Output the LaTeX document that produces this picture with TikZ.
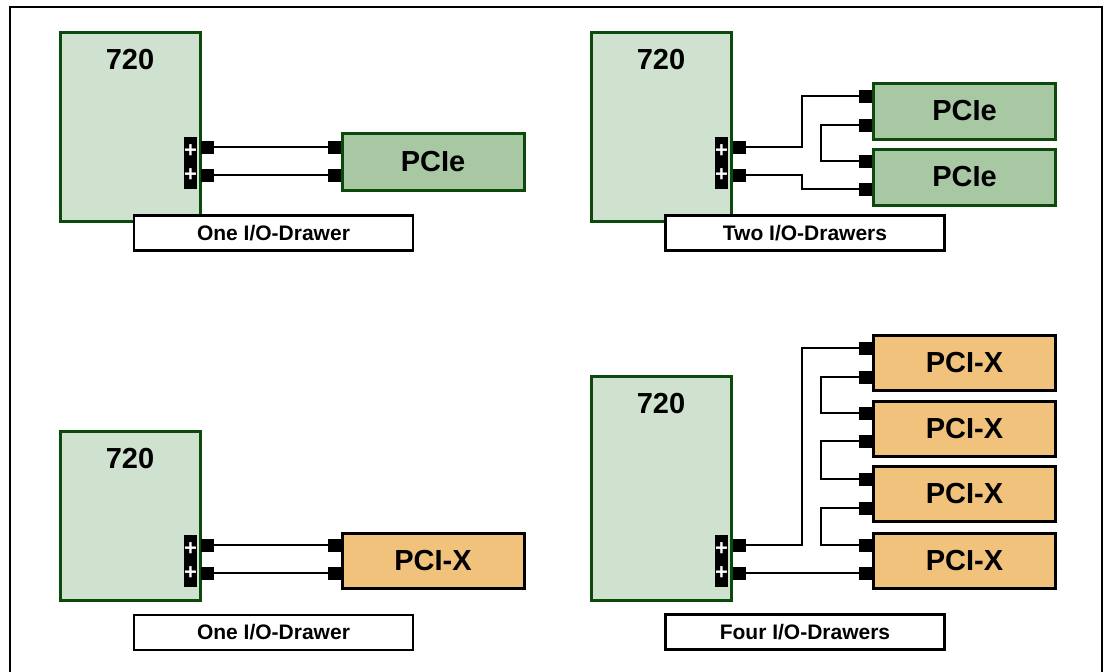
\documentclass[tikz,border=0pt]{standalone}
\usepackage{fontspec}
\setmainfont{Liberation Sans}
\usetikzlibrary{calc}
\definecolor{unitfill}{HTML}{CFE2CF}
\definecolor{unitline}{HTML}{0C4A0C}
\definecolor{pciefill}{HTML}{A8C8A4}
\definecolor{pcixfill}{HTML}{F1C27C}
\tikzset{
  unit/.style={draw=unitline, line width=3pt, fill=unitfill, inner sep=0pt, minimum width=140pt},
  bigtxt/.style={font=\fontsize{29}{34}\selectfont\bfseries, inner sep=0pt},
  strip/.style={fill=black, inner sep=0pt, minimum width=13pt, minimum height=52pt},
  plus/.style={text=white, font=\fontsize{22}{22}\selectfont\bfseries, inner sep=0pt},
  port/.style={fill=black, inner sep=0pt, minimum width=13pt, minimum height=13pt},
  drawerbox/.style={draw=black, line width=3pt, inner sep=0pt, minimum width=182pt, font=\fontsize{29}{34}\selectfont\bfseries},
  pcie/.style={drawerbox, draw=unitline, fill=pciefill, minimum height=56pt},
  pcix/.style={drawerbox, fill=pcixfill, minimum height=55pt},
  lbl/.style={draw=black, line width=2.2pt, fill=white, inner sep=0pt, minimum width=279pt, minimum height=35pt, font=\fontsize{21}{24}\selectfont\bfseries},
  cable/.style={line width=2pt, black},
}
\begin{document}
\begin{tikzpicture}[x=1pt,y=-1pt]
\useasboundingbox (0,0) rectangle (1106,672);
\draw[line width=1.3pt] (10,672) -- (10,7) -- (1102,7) -- (1102,672);

% ---------- top-left ----------
\node[unit, minimum height=189pt] (a-u) at (130,126.5) {};
\node[bigtxt] (a-t) at ($(a-u.north)+(0,29)$) {720};
\node[strip] (a-s) at (190.5,163) {};
\node[plus] (a-s1) at (190.5,151) {+};
\node[plus] (a-s2) at (190.5,175) {+};
\node[port] (a-p1) at (207,147) {};
\node[port] (a-p2) at (207,175) {};
\node[pcie, minimum height=57pt] (a-d) at (433,162) {PCIe};
\node[port] (a-q1) at (334.5,147) {};
\node[port] (a-q2) at (334.5,175) {};
\node[lbl] (a-l) at (273.5,233) {One I/O-Drawer};
\draw[cable] (a-p1.east) -- (a-q1.west);
\draw[cable] (a-p2.east) -- (a-q2.west);

% ---------- top-right ----------
\node[unit, minimum height=189pt] (b-u) at (661,126.5) {};
\node[bigtxt] (b-t) at ($(b-u.north)+(0,29)$) {720};
\node[strip] (b-s) at (721.5,163) {};
\node[plus] (b-s1) at (721.5,151) {+};
\node[plus] (b-s2) at (721.5,175) {+};
\node[port] (b-p1) at (739,147) {};
\node[port] (b-p2) at (739,175) {};
\node[pcie] (b-d1) at (964.5,111) {PCIe};
\node[pcie] (b-d2) at (964.5,177) {PCIe};
\node[port] (b-q1) at (865.5,96) {};
\node[port] (b-q2) at (865.5,125) {};
\node[port] (b-q3) at (865.5,161) {};
\node[port] (b-q4) at (865.5,189) {};
\node[lbl] (b-l) at (805,233) {Two I/O-Drawers};
\coordinate (b-x) at (802,0);
\coordinate (b-y) at (821,0);
\draw[cable] (b-p1.east) -- (b-p1.east -| b-x) |- (b-q1.west);
\draw[cable] (b-q2.west) -- (b-q2.west -| b-y) |- (b-q3.west);
\draw[cable] (b-p2.east) -- (b-p2.east -| b-x) |- (b-q4.west);

% ---------- bottom-left ----------
\node[unit, minimum height=169pt] (c-u) at (130,515.5) {};
\node[bigtxt] (c-t) at ($(c-u.north)+(0,29)$) {720};
\node[strip] (c-s) at (190.5,561) {};
\node[plus] (c-s1) at (190.5,549) {+};
\node[plus] (c-s2) at (190.5,573) {+};
\node[port] (c-p1) at (207,545) {};
\node[port] (c-p2) at (207,573) {};
\node[pcix] (c-d) at (433,560.5) {PCI-X};
\node[port] (c-q1) at (334.5,545) {};
\node[port] (c-q2) at (334.5,573) {};
\node[lbl] (c-l) at (273.5,632.5) {One I/O-Drawer};
\draw[cable] (c-p1.east) -- (c-q1.west);
\draw[cable] (c-p2.east) -- (c-q2.west);

% ---------- bottom-right ----------
\node[unit, minimum height=224pt] (d-u) at (661,488) {};
\node[bigtxt] (d-t) at ($(d-u.north)+(0,29)$) {720};
\node[strip] (d-s) at (721.5,561) {};
\node[plus] (d-s1) at (721.5,549) {+};
\node[plus] (d-s2) at (721.5,573) {+};
\node[port] (d-p1) at (739,545) {};
\node[port] (d-p2) at (739,573) {};
\node[pcix] (d-d1) at (964.5,363) {PCI-X};
\node[pcix] (d-d2) at (964.5,428.5) {PCI-X};
\node[pcix] (d-d3) at (964.5,494) {PCI-X};
\node[pcix] (d-d4) at (964.5,560.5) {PCI-X};
\node[port] (d-q1) at (865.5,348) {};
\node[port] (d-q2) at (865.5,377) {};
\node[port] (d-q3) at (865.5,413) {};
\node[port] (d-q4) at (865.5,441) {};
\node[port] (d-q5) at (865.5,479) {};
\node[port] (d-q6) at (865.5,508) {};
\node[port] (d-q7) at (865.5,545) {};
\node[port] (d-q8) at (865.5,573) {};
\node[lbl] (d-l) at (805,632) {Four I/O-Drawers};
\coordinate (d-x) at (802,0);
\coordinate (d-y) at (821,0);
\draw[cable] (d-p1.east) -- (d-p1.east -| d-x) |- (d-q1.west);
\draw[cable] (d-q2.west) -- (d-q2.west -| d-y) |- (d-q3.west);
\draw[cable] (d-q4.west) -- (d-q4.west -| d-y) |- (d-q5.west);
\draw[cable] (d-q6.west) -- (d-q6.west -| d-y) |- (d-q7.west);
\draw[cable] (d-p2.east) -- (d-q8.west);
\end{tikzpicture}
\end{document}
